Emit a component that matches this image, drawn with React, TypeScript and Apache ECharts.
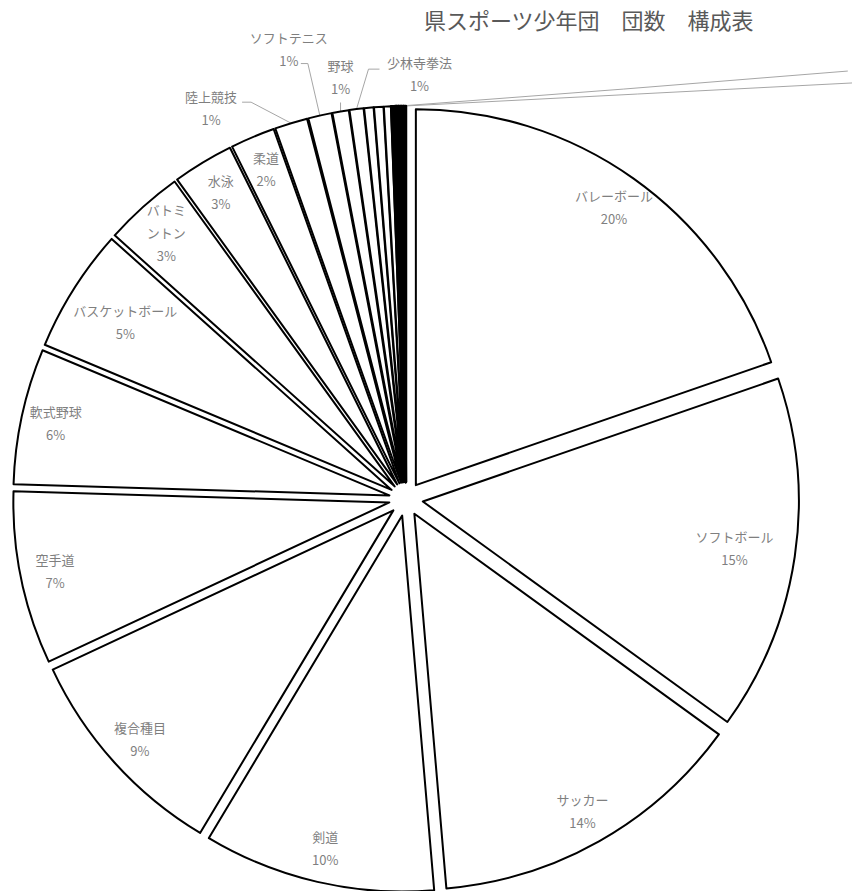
import React, { useEffect, useRef } from 'react';
import * as echarts from 'echarts';

const chartTitle = '県スポーツ少年団　団数　構成表';

const categories = [
  'バレーボール', 'ソフトボール', 'サッカー', '剣道', '複合種目', '空手道', '軟式野球',
  'バスケットボール', 'バトミントン', '水泳', '柔道', '陸上競技', 'ソフトテニス', '野球',
  '少林寺拳法', '卓球', '体操', 'ハンドボール', 'ラグビー', 'なぎなた', 'スキー',
  'ゲートボール', 'ホッケー', 'テニス',
];
const teamCounts = [196, 152, 136, 99, 94, 74, 58, 53, 34, 26, 19, 14, 10, 7, 6, 4, 4, 3, 1, 1, 1, 1, 1, 1];

const insideLabelled = ['バレーボール', 'サッカー', '剣道', '複合種目', '空手道', '軟式野球', 'バトミントン', '水泳', '柔道'];
const deepInsideLabelled = ['ソフトボール', 'バスケットボール'];
const outsideLabelled = ['陸上競技', 'ソフトテニス', '野球', '少林寺拳法'];
const offCanvasLabelled = ['ゲートボール', 'テニス'];

// label placement relative to the library's label anchor (layout, not data)
const outsidePlacement: Record<string, { label: number[]; elbow: number[]; end: number[] }> = {
  '陸上競技': { label: [-80, -15], elbow: [-40, -21], end: [-49, -21] },
  'ソフトテニス': { label: [-31, -67], elbow: [-12, -52], end: [-19, -52] },
  '野球': { label: [0, -34], elbow: [0, -9], end: [0, -9] },
  '少林寺拳法': { label: [63, -35], elbow: [12, -40], end: [23, -40] },
  'ゲートボール': { label: [480, -36], elbow: [224, -17], end: [448, -35] },
  'テニス': { label: [500, -25], elbow: [233, -12], end: [466, -24] },
};

export default function App() {
  const ref = useRef<HTMLDivElement>(null);

  useEffect(() => {
    document.body.style.margin = '0';
    const chart = echarts.init(ref.current as HTMLDivElement, null, { renderer: 'svg' });
    const FONT = "'Noto Sans CJK JP', 'Noto Sans', sans-serif";
    const CX = 406;
    const CY = 499;
    const R = 376;
    const OFFSET = 17;
    const BORDER = 2;

    const textStyle = {
      color: '#7f7f7f',
      fontSize: 13,
      lineHeight: 23,
      fontFamily: FONT,
      align: 'center' as const,
    };
    const fmt = (p: any) => `${p.name}\n${Math.round(p.percent)}%`;
    const clear = { color: 'rgba(0,0,0,0)', borderWidth: 0 };

    const sliceData = categories.map((name, i) => {
      const style = {
        color: '#ffffff',
        borderColor: '#000000',
        borderWidth: teamCounts[i] <= 1 ? 2.6 : BORDER,
      };
      return { name, value: teamCounts[i], selected: true, itemStyle: style, select: { itemStyle: style } };
    });

    const labelData = (names: string[]) =>
      categories.map((name, i) => {
        const show = names.includes(name);
        const extra = name === 'バトミントン' ? { width: 42, overflow: 'break' } : {};
        return {
          name,
          value: teamCounts[i],
          selected: true,
          label: { show, position: 'inside', formatter: fmt, ...textStyle, ...extra },
        };
      });

    const outerData = categories.map((name, i) => {
      const offCanvas = offCanvasLabelled.includes(name);
      const show = outsideLabelled.includes(name) || offCanvas;
      return {
        name,
        value: teamCounts[i],
        label: { show, position: 'outside', formatter: offCanvas ? () => '' : fmt, ...textStyle },
        labelLine: { show, smooth: false, lineStyle: { color: '#a6a6a6', width: 1 } },
      };
    });

    const labelSeries = (inner: number, names: string[]) => ({
      type: 'pie',
      radius: [inner, R],
      center: [CX, CY],
      startAngle: 90,
      clockwise: true,
      selectedMode: 'multiple',
      selectedOffset: OFFSET,
      avoidLabelOverlap: false,
      silent: true,
      itemStyle: clear,
      select: { itemStyle: clear },
      emphasis: { scale: false },
      labelLine: { show: false },
      data: labelData(names),
    });

    chart.setOption({
      animation: false,
      backgroundColor: '#ffffff',
      title: {
        text: chartTitle,
        left: 419,
        top: 3,
        textStyle: { fontSize: 22, fontWeight: 'normal', color: '#595959', fontFamily: FONT },
      },
      series: [
        {
          type: 'pie',
          radius: R,
          center: [CX, CY],
          startAngle: 90,
          clockwise: true,
          selectedMode: 'multiple',
          selectedOffset: OFFSET,
          silent: true,
          emphasis: { scale: false },
          label: { show: false },
          labelLine: { show: false },
          data: sliceData,
        },
        labelSeries(R * 0.8, insideLabelled),
        labelSeries(R * 0.66, deepInsideLabelled),
        {
          type: 'pie',
          radius: R,
          center: [CX, CY],
          startAngle: 90,
          clockwise: true,
          avoidLabelOverlap: false,
          silent: true,
          itemStyle: clear,
          emphasis: { scale: false },
          data: outerData,
          labelLayout: (params: any) => {
            const cfg = outsidePlacement[categories[params.dataIndex]];
            const pts = params.labelLinePoints;
            if (!cfg || !pts) return {};
            const px0 = pts[0][0];
            const py0 = pts[0][1];
            const ang = Math.atan2(py0 - CY, px0 - CX);
            const ax = px0 + OFFSET * Math.cos(ang);
            const ay = py0 + OFFSET * Math.sin(ang);
            return {
              x: ax + cfg.label[0],
              y: ay + cfg.label[1],
              align: 'center',
              verticalAlign: 'middle',
              labelLinePoints: [
                [ax, ay],
                [ax + cfg.elbow[0], ay + cfg.elbow[1]],
                [ax + cfg.end[0], ay + cfg.end[1]],
              ],
            };
          },
        },
      ],
    });

    return () => chart.dispose();
  }, []);

  return <div ref={ref} style={{ width: 852, height: 891 }} />;
}
